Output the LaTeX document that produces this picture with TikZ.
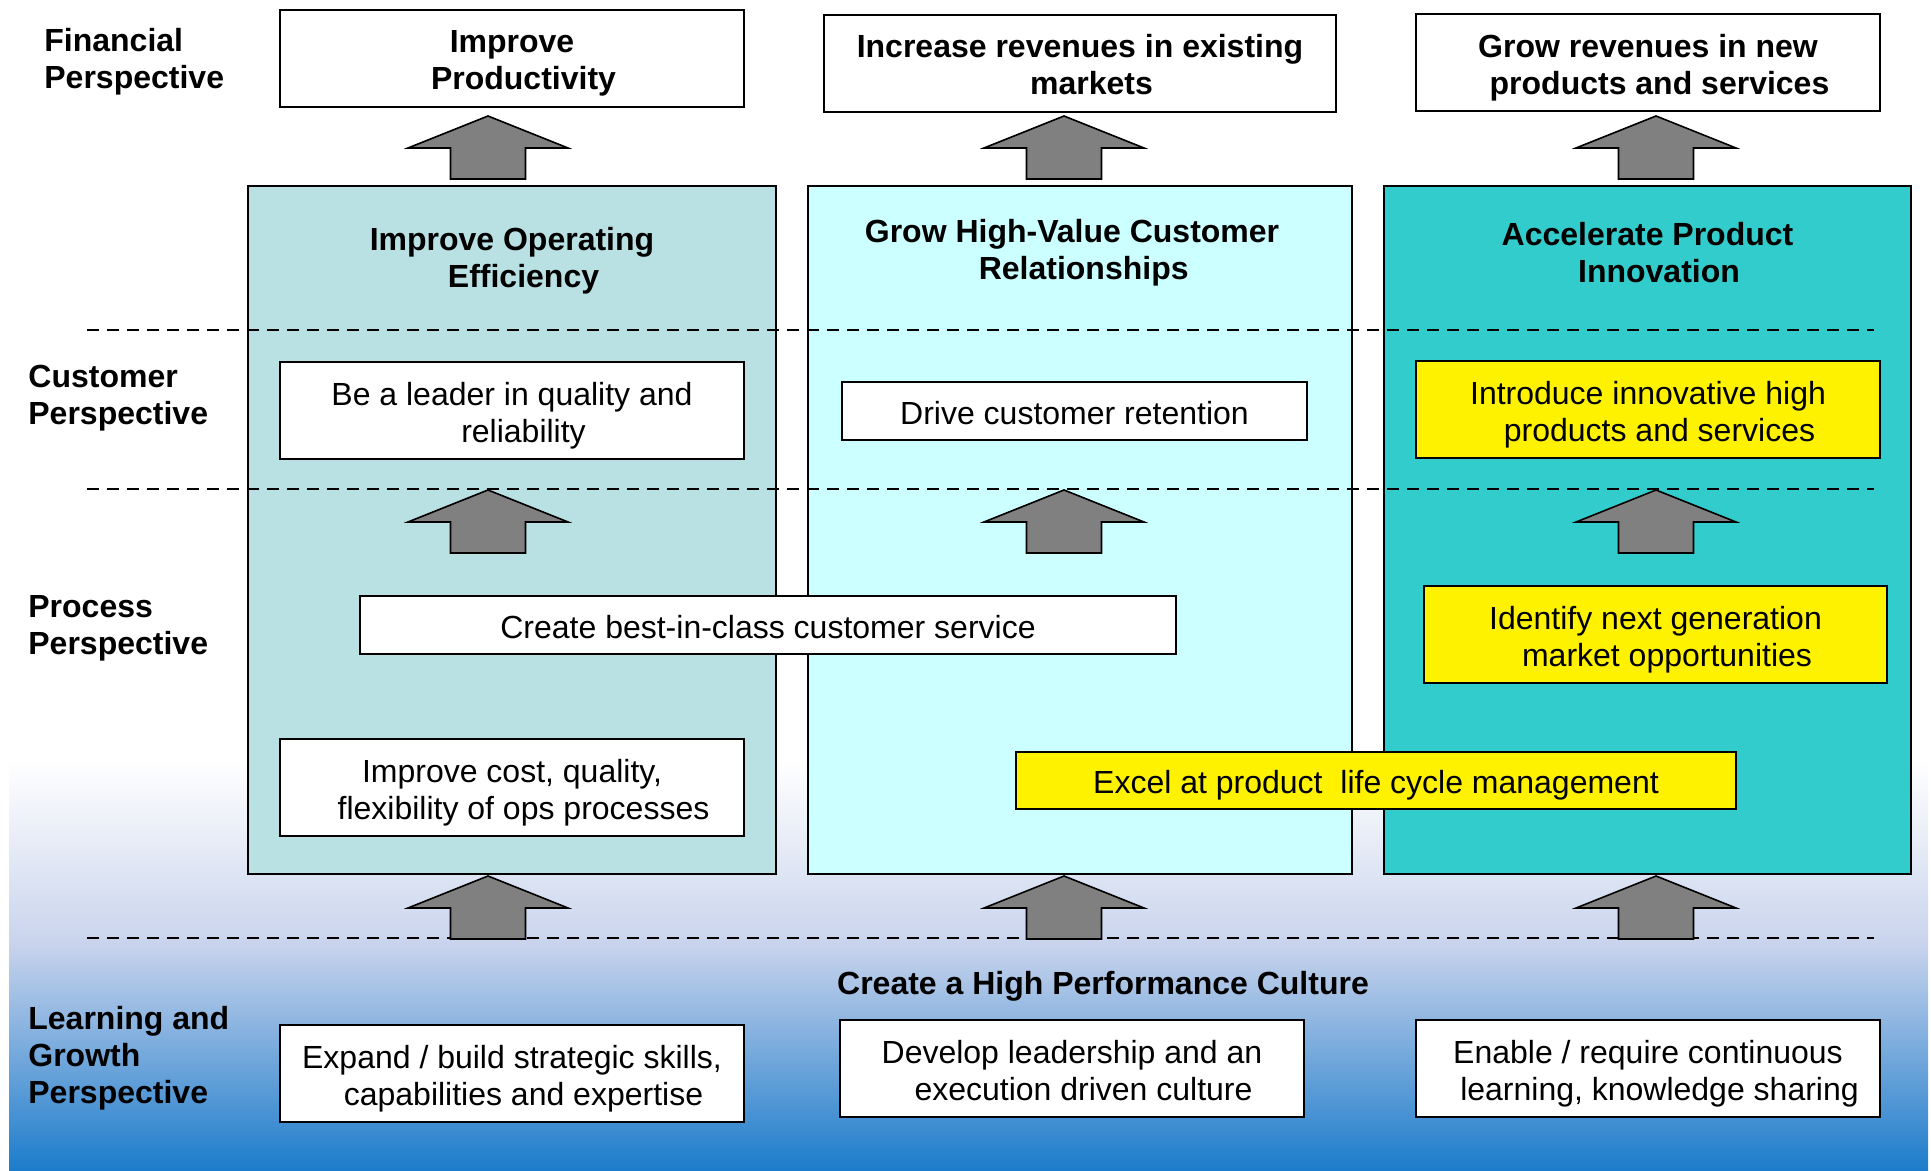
\documentclass[tikz,border=0pt]{standalone}
\usepackage{fontspec}
\setmainfont{Liberation Sans}
\definecolor{colA}{RGB}{185,224,227}
\definecolor{colB}{RGB}{204,255,255}
\definecolor{colC}{RGB}{51,204,204}
\definecolor{arrowgray}{RGB}{128,128,128}
\definecolor{bgmid}{RGB}{200,211,236}
\definecolor{bgbot}{RGB}{28,124,203}
\newcommand\blockup[2]{\draw[blockarrow] (#1,#2) -- ++(80,32) -- ++(-42.5,0) -- ++(0,31) -- ++(-75,0) -- ++(0,-31) -- ++(-42.5,0) -- cycle;}
\begin{document}
\begin{tikzpicture}[x=0.5pt,y=-0.5pt,
  every node/.style={font=\fontsize{16pt}{18.5pt}\selectfont, text=black},
  plainbox/.style={draw=black, line width=1pt, fill=white, align=center, inner sep=0pt,
    execute at end node={\rule[-3.4pt]{0pt}{3.4pt}}},
  oneline/.style={execute at begin node={\rule{0pt}{16.4pt}}},
  twoline/.style={execute at begin node={\rule{0pt}{34.9pt}}},
  yellowbox/.style={plainbox, fill=yellow},
  finbox/.style={plainbox, font=\fontsize{16pt}{18.5pt}\selectfont\bfseries},
  colbox/.style={draw=black, line width=1.2pt, inner sep=0pt, minimum height=344pt},
  title/.style={font=\fontsize{16pt}{18.5pt}\selectfont\bfseries, align=center, inner sep=0pt},
  persp/.style={font=\fontsize{16pt}{18.5pt}\selectfont\bfseries, align=left, anchor=west, inner sep=0pt},
  sepline/.style={dash pattern=on 6pt off 4pt, line width=1pt},
  blockarrow/.style={draw=black, line width=0.8pt, fill=arrowgray, line join=miter},
  wide/.style={minimum width=232pt, minimum height=48.5pt, twoline}
]
\useasboundingbox (0,0) rectangle (1931,1171);
% background
\fill[white] (0,0) rectangle (1931,1171);
\shade[top color=white, bottom color=bgmid] (9,760) rectangle (1928,946);
\shade[top color=bgmid, bottom color=bgbot] (9,945) rectangle (1928,1171);

% perspective labels
\node[persp] (lfin) at (44,62) {Financial\\Perspective};
\node[persp] (lcus) at (28,398) {Customer\\Perspective};
\node[persp] (lpro) at (28,628) {Process\\Perspective};
\node[persp] (llea) at (28,1058) {Learning and\\Growth\\Perspective};

% financial boxes
\node[finbox, wide] (fin1) at (512,58.5) {Improve\\\hspace*{11.5pt}Productivity};
\node[finbox, minimum width=256pt, minimum height=48.5pt, twoline] (fin2) at (1080,63.5) {Increase revenues in existing\\\hspace*{11.5pt}markets};
\node[finbox, wide] (fin3) at (1648,63) {Grow revenues in new\\\hspace*{11.5pt}products and services};

% column boxes
\node[colbox, fill=colA, minimum width=264pt] (col1) at (512,530) {};
\node[colbox, fill=colB, minimum width=272pt] (col2) at (1080,530) {};
\node[colbox, fill=colC, minimum width=263.5pt] (col3) at (1647.5,530) {};

\node[title] (t1) at (512,261) {Improve Operating\\\hspace*{11.5pt}Efficiency};
\node[title] (t2) at (1080,252.5) {Grow High-Value Customer\hspace*{8pt}\\\hspace*{3.7pt}Relationships};
\node[title] (t3) at (1647.5,252.5) {Accelerate Product\\\hspace*{11.5pt}Innovation};

% separators
\coordinate (s1a) at (87,330); \coordinate (s1b) at (1874,330);
\coordinate (s2a) at (87,489); \coordinate (s2b) at (1874,489);
\coordinate (s3a) at (87,938); \coordinate (s3b) at (1874,938);
\draw[sepline] (s1a) -- (s1b);
\draw[sepline] (s2a) -- (s2b);
\draw[sepline] (s3a) -- (s3b);

% customer row
\node[plainbox, wide] (c1) at (512,410.5) {Be a leader in quality and\\\hspace*{11.5pt}reliability};
\node[plainbox, oneline, minimum width=232.5pt, minimum height=29pt] (c2) at (1074.5,411) {Drive customer retention};
\node[yellowbox, wide] (c3) at (1648,409.5) {Introduce innovative high\\\hspace*{11.5pt}products and services};

% process row
\node[plainbox, oneline, minimum width=408pt, minimum height=29pt] (p1) at (768,625) {Create best-in-class customer service};
\node[yellowbox, wide, minimum width=231.5pt] (p2) at (1655.5,634.5) {Identify next generation\\\hspace*{11.5pt}market opportunities};
\node[plainbox, wide] (p3) at (512,787.5) {Improve cost, quality,\\\hspace*{11.5pt}flexibility of ops processes};
\node[yellowbox, oneline, minimum width=360pt, minimum height=28.5pt] (p4) at (1376,780.5) {Excel at product\ \ life cycle management};

% learning row
\node[title] (culture) at (1103,986.5) {Create a High Performance Culture};
\node[plainbox, wide] (l1) at (512,1073.5) {Expand / build strategic skills,\\\hspace*{11.5pt}capabilities and expertise};
\node[plainbox, wide] (l2) at (1072,1068.5) {Develop leadership and an\\\hspace*{11.5pt}execution driven culture};
\node[plainbox, wide] (l3) at (1648,1068.5) {Enable / require continuous\\\hspace*{11.5pt}learning, knowledge sharing};

% block arrows
\blockup{488}{116}
\blockup{1064}{116}
\blockup{1656}{116}
\blockup{488}{490}
\blockup{1064}{490}
\blockup{1656}{490}
\blockup{488}{876}
\blockup{1064}{876}
\blockup{1656}{876}
\end{tikzpicture}
\end{document}
